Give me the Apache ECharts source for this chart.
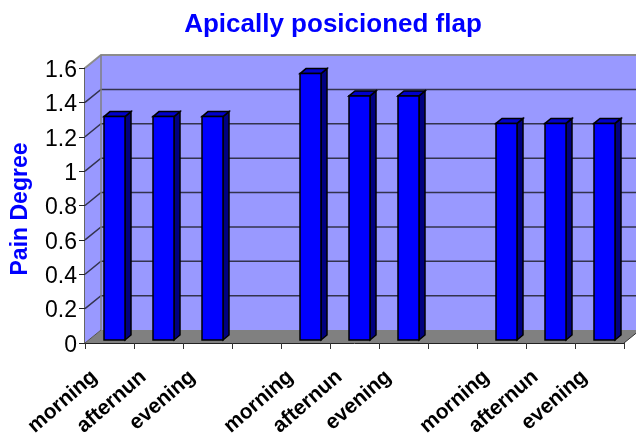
<!DOCTYPE html>
<html><head><meta charset="utf-8">
<style>html,body{margin:0;padding:0;background:#fff}#c{width:636px;height:435px}</style>
<script src="https://cdn.jsdelivr.net/npm/echarts@6/dist/echarts.min.js"></script>
</head><body><div id="c"></div>
<script>
const categories = ['morning','afternun','evening','','morning','afternun','evening','','morning','afternun','evening'];
const painValues = [1.3,1.3,1.3,null,1.55,1.42,1.42,null,1.26,1.26,1.26];
const yTicks = [0,0.2,0.4,0.6,0.8,1,1.2,1.4,1.6];

const DX = 16, DY = 13;
const font = '"Liberation Sans", Arial, sans-serif';
const chart = echarts.init(document.getElementById('c'), null, {renderer:'canvas'});

function renderWalls(params, api) {
  const c = params.coordSys;
  const l = c.x, r = c.x + c.width, t = c.y, b = c.y + c.height;
  const kids = [];
  const poly = (pts, fill, stroke, lw) => kids.push({type:'polygon', shape:{points:pts},
    style:{fill, stroke: stroke || null, lineWidth: lw || 0}});
  poly([[l+DX,t-DY],[r+DX,t-DY],[r+DX,b-DY],[l+DX,b-DY]], '#9999ff');
  poly([[l,t],[l+DX,t-DY],[l+DX,b-DY],[l,b]], '#9999ff');
  poly([[l,b],[l+DX,b-DY],[r+DX,b-DY],[r,b]], '#808080');
  yTicks.forEach(v => {
    if (v === 0) return;
    const y = api.coord([0, v])[1];
    const top = v === yTicks[yTicks.length-1];
    const col = top ? '#8c8c8c' : '#33334d';
    kids.push({type:'polyline', shape:{points:[[l,y],[l+DX,y-DY],[r+DX,y-DY]]},
      style:{fill:null, stroke:col, lineWidth:top?2:1.5}});
  });
  kids.push({type:'line', shape:{x1:l+DX,y1:t-DY,x2:l+DX,y2:b-DY}, style:{stroke:'#808080',lineWidth:1.5}});
  kids.push({type:'line', shape:{x1:l,y1:b,x2:l+DX,y2:b-DY}, style:{stroke:'#555',lineWidth:1}});
  kids.push({type:'line', shape:{x1:r,y1:b,x2:r+DX,y2:b-DY}, style:{stroke:'#333',lineWidth:1}});
  return {type:'group', children:kids};
}

function renderBar(params, api) {
  const v = api.value(1);
  if (v == null || isNaN(v)) return;
  const base = api.coord([api.value(0), 0]);
  const top = api.coord([api.value(0), v]);
  const offX = 5, offY = 3, w = 21, dx = 6, dy = 5;
  const x0 = base[0] + offX - w/2, x1 = x0 + w;
  const yb = base[1] - offY, yt = top[1] - offY;
  const st = {stroke:'#000', lineWidth:1.5, lineJoin:'miter'};
  return {type:'group', children:[
    {type:'polygon', shape:{points:[[x1,yt],[x1+dx,yt-dy],[x1+dx,yb-dy],[x1,yb]]}, style:{fill:'#000080',...st}},
    {type:'polygon', shape:{points:[[x0,yt],[x0+dx,yt-dy],[x1+dx,yt-dy],[x1,yt]]}, style:{fill:'#0000cc',...st}},
    {type:'rect', shape:{x:x0,y:yt,width:w,height:yb-yt}, style:{fill:'#0000ff',...st}}
  ]};
}

chart.setOption({
  animation:false,
  backgroundColor:'#fff',
  title:{text:'Apically posicioned flap', left:328, top:7, textAlign:'center',
    textStyle:{color:'#0000ff', fontFamily:font, fontWeight:'bold', fontSize:26}},
  grid:{left:85, right:12, top:68, bottom:92, containLabel:false, outerBoundsMode:'none'},
  xAxis:{type:'category', data:categories,
    axisLine:{lineStyle:{color:'#222',width:1}},
    axisTick:{show:true, length:6, lineStyle:{color:'#333'}, alignWithLabel:false},
    axisLabel:{interval:0, rotate:41, margin:18, padding:[0,20,0,0], color:'#000', fontFamily:font, fontWeight:'bold', fontSize:21, hideOverlap:false},
    splitLine:{show:false}},
  yAxis:{type:'value', min:0, max:1.6, interval:0.2,
    name:'Pain Degree', nameLocation:'middle', nameGap:53, nameRotate:90,
    nameTextStyle:{color:'#0000ff', fontFamily:font, fontWeight:'bold', fontSize:23, padding:[0,7,0,0]},
    axisLine:{show:true, lineStyle:{color:'#666',width:2}},
    axisTick:{show:true, length:6, lineStyle:{color:'#222'}},
    axisLabel:{margin:8, formatter:'{a|{value}}',
      rich:{a:{color:'#000', fontFamily:font, fontSize:23, padding:[5,0,0,0]}}},
    splitLine:{show:false}},
  series:[
    {type:'custom', name:'walls', renderItem:renderWalls, data:[[0,0]], clip:false, silent:true, z:1},
    {type:'custom', name:'Pain Degree', renderItem:renderBar, clip:false, z:2,
      encode:{x:0,y:1},
      data:painValues.map((v,i)=>[i,v])}
  ]
});
</script></body></html>
